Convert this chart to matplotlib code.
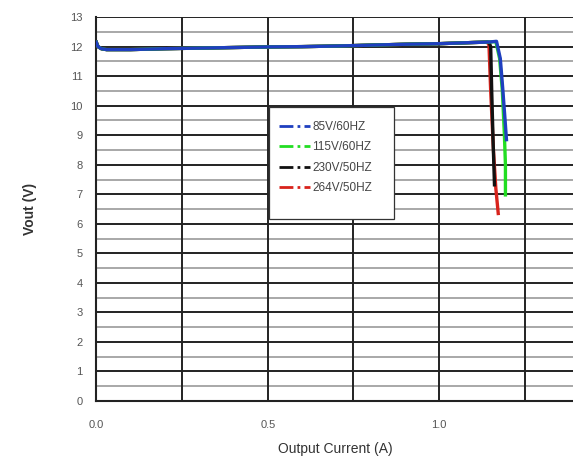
import matplotlib
matplotlib.use('agg')
from matplotlib import pyplot as plt
from matplotlib.patches import Rectangle

plt.rcParams['font.family'] = ['Liberation Sans', 'DejaVu Sans']

# flat regulation part, shared by all four lines
flat_x = [0.0, 0.005, 0.015, 0.03, 0.06, 0.1, 0.2, 0.3, 0.4, 0.5, 0.6, 0.7, 0.8, 0.9, 1.0, 1.05, 1.1, 1.13]
flat_y = [12.15, 12.0, 11.93, 11.9, 11.9, 11.9, 11.93, 11.95, 11.97, 11.99, 12.0, 12.02, 12.05, 12.08, 12.1, 12.12, 12.14, 12.15]

labels = ['85V/60HZ', '115V/60HZ', '230V/50HZ', '264V/50HZ']
colors = ['#1f3fbf', '#22dd22', '#111111', '#d8231c']

drop_x = {
    '85V/60HZ':  [1.15, 1.167, 1.178, 1.185, 1.192, 1.196],
    '115V/60HZ': [1.15, 1.165, 1.176, 1.184, 1.19, 1.193, 1.193],
    '230V/50HZ': [1.145, 1.15, 1.153, 1.157, 1.161],
    '264V/50HZ': [1.14, 1.145, 1.15, 1.158, 1.165, 1.172],
}
drop_y = {
    '85V/60HZ':  [12.16, 12.18, 11.6, 10.6, 9.5, 8.85],
    '115V/60HZ': [12.16, 12.17, 11.6, 10.5, 9.0, 8.0, 6.98],
    '230V/50HZ': [12.15, 12.0, 10.5, 8.8, 7.32],
    '264V/50HZ': [12.16, 12.05, 10.5, 8.5, 7.2, 6.35],
}

fig = plt.figure(figsize=(5.73, 4.62), dpi=100)
ax = fig.add_axes([0.168, 0.132, 0.835, 0.831])

ax.set_xlim(0, 1.395)
ax.set_ylim(0, 13)

# grid: black on integers / quarter amps, grey on half volts
for v in range(1, 14):
    ax.axhline(v, color='#222222', lw=1.4, zorder=1)
for v in range(0, 13):
    ax.axhline(v + 0.5, color='#9a9a9a', lw=1.2, zorder=1)
for v in [0.25, 0.5, 0.75, 1.0, 1.25]:
    ax.axvline(v, color='#222222', lw=1.4, zorder=1)

order = ['264V/50HZ', '230V/50HZ', '115V/60HZ', '85V/60HZ']
for lab in order:
    c = colors[labels.index(lab)]
    ax.plot(flat_x + drop_x[lab], flat_y + drop_y[lab], color=c, lw=2.4, zorder=3)

# legend box drawn by hand (lots of empty room at the bottom)
ax.add_patch(Rectangle((0.36, 0.475), 0.263, 0.765 - 0.475, transform=ax.transAxes,
                       facecolor='white', edgecolor='#333333', lw=0.9, zorder=4))
handles = [plt.Line2D([], [], color=c, lw=2, linestyle=(0, (5, 1.5, 1, 1.5))) for c in colors]
leg = ax.legend(handles, labels, loc='upper left', bbox_to_anchor=(0.37, 0.745),
                frameon=False, fontsize=8.5, handlelength=2.6, handletextpad=0.2,
                labelspacing=0.72, borderpad=0, labelcolor='#444444')
leg.set_zorder(5)

for s in ['top', 'right']:
    ax.spines[s].set_visible(False)
for s in ['left', 'bottom']:
    ax.spines[s].set_linewidth(1.5)
    ax.spines[s].set_color('#222222')

ax.set_yticks(range(0, 14))
ax.set_xticks([0.0, 0.5, 1.0])
ax.set_xticklabels(['0.0', '0.5', '1.0'])
ax.tick_params(axis='both', length=0, labelsize=8, labelcolor='#555555')
ax.tick_params(axis='y', pad=10)
ax.tick_params(axis='x', pad=14)

ax.set_xlabel('Output Current (A)', fontsize=10, color='#333333', labelpad=8)
ax.set_ylabel('Vout (V)', fontsize=10, fontweight='bold', color='#333333', labelpad=24)

plt.savefig('out.png', dpi=100)
